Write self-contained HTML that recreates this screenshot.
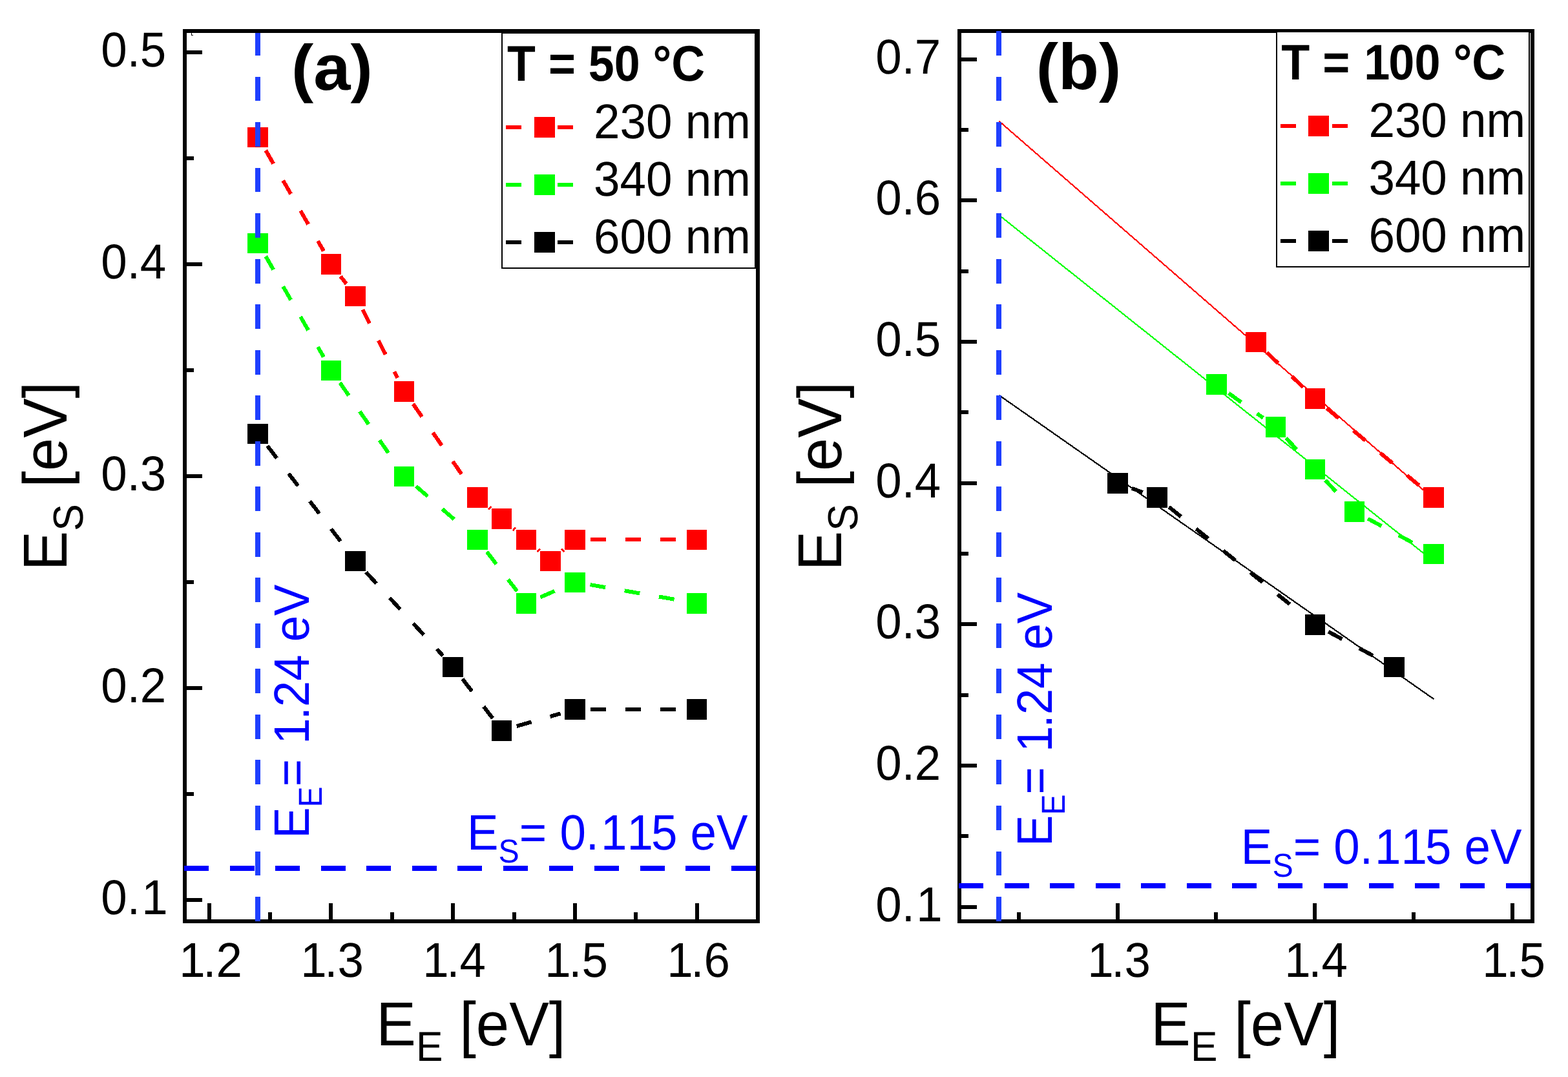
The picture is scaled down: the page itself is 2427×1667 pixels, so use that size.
<!DOCTYPE html>
<html lang="en"><head><meta charset="utf-8"><title>E_S versus E_E at T = 50 °C and T = 100 °C</title>
<style>html,body{margin:0;padding:0;background:#fff}svg{display:block}</style></head>
<body>
<svg width="2427" height="1667" viewBox="0 0 2427 1667" shape-rendering="crispEdges" text-rendering="geometricPrecision" font-family="Liberation Sans, Arial, Helvetica, sans-serif" style="font-kerning:none">
<rect width="2427" height="1667" fill="#fff"/>
<g id="panel-a">
<g shape-rendering="crispEdges">
<line x1="411.27" y1="232.65" x2="500.98" y2="388.55" stroke="#ff0000" stroke-width="6" stroke-dasharray="24 30"/>
<line x1="527.12" y1="427.72" x2="536.13" y2="439.48" stroke="#ff0000" stroke-width="6" stroke-dasharray="24 30"/>
<line x1="561.25" y1="479.21" x2="615.25" y2="584.79" stroke="#ff0000" stroke-width="6" stroke-dasharray="24 30"/>
<line x1="639.41" y1="625.22" x2="725.84" y2="750.38" stroke="#ff0000" stroke-width="6" stroke-dasharray="24 30"/>
<line x1="757.06" y1="785.28" x2="759.19" y2="787.12" stroke="#ff0000" stroke-width="6" stroke-dasharray="24 30"/>
<line x1="794.81" y1="818.08" x2="796.94" y2="819.92" stroke="#ff0000" stroke-width="6" stroke-dasharray="24 30"/>
<line x1="832.56" y1="850.88" x2="834.69" y2="852.72" stroke="#ff0000" stroke-width="6" stroke-dasharray="24 30"/>
<line x1="870.31" y1="852.72" x2="872.44" y2="850.88" stroke="#ff0000" stroke-width="6" stroke-dasharray="24 30"/>
<line x1="913.85" y1="835.4" x2="1055.4" y2="835.4" stroke="#ff0000" stroke-width="6" stroke-dasharray="24 30"/>
<line x1="411.27" y1="396.65" x2="500.98" y2="552.55" stroke="#00ff00" stroke-width="6" stroke-dasharray="24 30"/>
<line x1="526.16" y1="592.42" x2="612.59" y2="717.58" stroke="#00ff00" stroke-width="6" stroke-dasharray="24 30"/>
<line x1="643.81" y1="752.48" x2="721.44" y2="819.92" stroke="#00ff00" stroke-width="6" stroke-dasharray="24 30"/>
<line x1="753.62" y1="854.12" x2="800.38" y2="915.08" stroke="#00ff00" stroke-width="6" stroke-dasharray="24 30"/>
<line x1="836.4" y1="924.4" x2="868.6" y2="910.4" stroke="#00ff00" stroke-width="6" stroke-dasharray="24 30"/>
<line x1="913.5" y1="905.04" x2="1055.75" y2="929.76" stroke="#00ff00" stroke-width="6" stroke-dasharray="24 30"/>
<line x1="413.87" y1="690.12" x2="536.13" y2="849.48" stroke="#000000" stroke-width="6" stroke-dasharray="24 30"/>
<line x1="566.49" y1="885.56" x2="685.51" y2="1014.84" stroke="#000000" stroke-width="6" stroke-dasharray="24 30"/>
<line x1="715.87" y1="1050.92" x2="762.63" y2="1111.88" stroke="#000000" stroke-width="6" stroke-dasharray="24 30"/>
<line x1="799.67" y1="1124.03" x2="867.58" y2="1104.37" stroke="#000000" stroke-width="6" stroke-dasharray="24 30"/>
<line x1="913.85" y1="1097.8" x2="1055.4" y2="1097.8" stroke="#000000" stroke-width="6" stroke-dasharray="24 30"/>
</g>
<rect x="383" y="197" width="32" height="31" fill="#ff0000"/>
<rect x="497" y="393" width="31" height="32" fill="#ff0000"/>
<rect x="534" y="443" width="32" height="31" fill="#ff0000"/>
<rect x="610" y="590" width="31" height="32" fill="#ff0000"/>
<rect x="723" y="754" width="32" height="32" fill="#ff0000"/>
<rect x="761" y="787" width="31" height="32" fill="#ff0000"/>
<rect x="799" y="820" width="31" height="31" fill="#ff0000"/>
<rect x="836" y="853" width="32" height="31" fill="#ff0000"/>
<rect x="874" y="820" width="32" height="31" fill="#ff0000"/>
<rect x="1063" y="820" width="31" height="31" fill="#ff0000"/>
<rect x="383" y="361" width="32" height="31" fill="#00ff00"/>
<rect x="497" y="558" width="31" height="31" fill="#00ff00"/>
<rect x="610" y="722" width="31" height="31" fill="#00ff00"/>
<rect x="723" y="820" width="32" height="31" fill="#00ff00"/>
<rect x="799" y="918" width="31" height="32" fill="#00ff00"/>
<rect x="874" y="886" width="32" height="31" fill="#00ff00"/>
<rect x="1063" y="918" width="31" height="32" fill="#00ff00"/>
<rect x="383" y="656" width="32" height="31" fill="#000000"/>
<rect x="534" y="853" width="32" height="31" fill="#000000"/>
<rect x="685" y="1017" width="32" height="31" fill="#000000"/>
<rect x="761" y="1115" width="31" height="32" fill="#000000"/>
<rect x="874" y="1082" width="32" height="32" fill="#000000"/>
<rect x="1063" y="1082" width="31" height="32" fill="#000000"/>
<rect x="286" y="48" width="887" height="1378" fill="none" stroke="#000" stroke-width="6"/>
<rect x="286" y="1390" width="27" height="6"/>
<rect x="286" y="1226" width="14" height="6"/>
<rect x="286" y="1062" width="27" height="6"/>
<rect x="286" y="898" width="14" height="6"/>
<rect x="286" y="734" width="27" height="6"/>
<rect x="286" y="570" width="14" height="6"/>
<rect x="286" y="406" width="27" height="6"/>
<rect x="286" y="242" width="14" height="6"/>
<rect x="286" y="78" width="27" height="6"/>
<rect x="321" y="1398" width="6" height="28"/>
<rect x="415" y="1412" width="6" height="14"/>
<rect x="509" y="1398" width="6" height="28"/>
<rect x="604" y="1412" width="6" height="14"/>
<rect x="698" y="1398" width="6" height="28"/>
<rect x="793" y="1412" width="6" height="14"/>
<rect x="887" y="1398" width="6" height="28"/>
<rect x="981" y="1412" width="6" height="14"/>
<rect x="1076" y="1398" width="6" height="28"/>
<line x1="285.3" y1="1344" x2="1170.3" y2="1344" stroke="#0000ff" stroke-width="8" stroke-dasharray="37.9 32.63"/>
<line x1="399" y1="51" x2="399" y2="1425.6" stroke="#1f3fff" stroke-width="8" stroke-dasharray="37.9 32.63" stroke-dashoffset="3"/>
<text transform="translate(156.2 1415) scale(1.0000 1.0450)" font-size="72.7">0.<tspan dx="2.5">1</tspan></text>
<text transform="translate(156.2 1087) scale(1.0000 1.0450)" font-size="72.7">0.2</text>
<text transform="translate(156.2 759) scale(1.0000 1.0450)" font-size="72.7">0.3</text>
<text transform="translate(156.2 431) scale(1.0000 1.0450)" font-size="72.7">0.4</text>
<text transform="translate(156.2 103) scale(1.0000 1.0450)" font-size="72.7">0.5</text>
<text transform="translate(273.87 1512.1) scale(1.0000 1.0400)" font-size="72.7"><tspan dx="3.5">1</tspan><tspan dx="-3.5">.2</tspan></text>
<text transform="translate(461.87 1512.1) scale(1.0000 1.0400)" font-size="72.7"><tspan dx="3.5">1</tspan><tspan dx="-3.5">.3</tspan></text>
<text transform="translate(650.87 1512.1) scale(1.0000 1.0400)" font-size="72.7"><tspan dx="3.5">1</tspan><tspan dx="-3.5">.4</tspan></text>
<text transform="translate(839.87 1512.1) scale(1.0000 1.0400)" font-size="72.7"><tspan dx="3.5">1</tspan><tspan dx="-3.5">.5</tspan></text>
<text transform="translate(1028.87 1512.1) scale(1.0000 1.0400)" font-size="72.7"><tspan dx="3.5">1</tspan><tspan dx="-3.5">.6</tspan></text>
<text transform="translate(582.37 1618) scale(1.0040 1.0430)" font-size="92">E<tspan font-size="62" dy="22.9">E</tspan><tspan dy="-22.9"> [eV]</tspan></text>
<text transform="translate(102.8 883.2) rotate(-90) scale(1.0000 1.0430)" font-size="92">E<tspan font-size="62.5" dy="24.6">S</tspan><tspan dy="-24.6"> [eV]</tspan></text>
<text transform="translate(478.14 1297.86) rotate(-90) scale(0.9940 1.0570)" font-size="73" fill="#0000ff">E<tspan font-size="48.5" dy="18.9">E</tspan><tspan dy="-18.9">= </tspan><tspan dx="3">1</tspan><tspan dx="-3">.24 eV</tspan></text>
<text transform="translate(722.92 1315.1) scale(0.9964 1.0570)" font-size="73" fill="#0000ff">E<tspan font-size="48.5" dy="18.9">S</tspan><tspan dy="-18.9">= 0.</tspan><tspan dx="3">11</tspan><tspan dx="-3">5 eV</tspan></text>
<text transform="translate(450.96 139.17) scale(1.0290 0.9941)" font-size="100" font-weight="bold">(a)</text>
<rect x="777" y="51" width="392" height="364" fill="#fff" stroke="#000" stroke-width="2"/>
<text transform="translate(785.07 124.91) scale(0.9798 1.0587)" font-size="73.3" font-weight="bold">T = 50 °C</text>
<rect x="783" y="194" width="24" height="6" fill="#ff0000"/>
<rect x="863" y="194" width="24" height="6" fill="#ff0000"/>
<rect x="827" y="181" width="32" height="32" fill="#ff0000"/>
<text transform="translate(919.1 213.9) scale(1.0000 1.0400)" font-size="72.8">230 nm</text>
<rect x="783" y="283" width="24" height="6" fill="#00ff00"/>
<rect x="863" y="283" width="24" height="6" fill="#00ff00"/>
<rect x="827" y="270" width="32" height="32" fill="#00ff00"/>
<text transform="translate(919.1 302.9) scale(1.0000 1.0400)" font-size="72.8">340 nm</text>
<rect x="783" y="372" width="24" height="6" fill="#000000"/>
<rect x="863" y="372" width="24" height="6" fill="#000000"/>
<rect x="827" y="359" width="32" height="32" fill="#000000"/>
<text transform="translate(919.1 391.9) scale(1.0000 1.0400)" font-size="72.8">600 nm</text>
<rect x="296" y="51" width="1" height="4"/><rect x="296" y="54" width="3" height="1"/>
</g>
<g id="panel-b">
<g shape-rendering="crispEdges">
<line x1="1546.4" y1="187.5" x2="2218.9" y2="772.2" stroke="#ff0000" stroke-width="2.2"/>
<line x1="1546.4" y1="333" x2="2218.9" y2="868.6" stroke="#00ff00" stroke-width="2.2"/>
<line x1="1546.4" y1="611.7" x2="2219.3" y2="1082" stroke="#000000" stroke-width="2.2"/>
<line x1="1960.8" y1="545.62" x2="2018.32" y2="600.51" stroke="#ff0000" stroke-width="6" stroke-dasharray="24 30"/>
<line x1="2053.52" y1="631.92" x2="2200.64" y2="754.74" stroke="#ff0000" stroke-width="6" stroke-dasharray="24 30"/>
<line x1="1901.79" y1="608.67" x2="1955.09" y2="646.8" stroke="#00ff00" stroke-width="6" stroke-dasharray="24 30"/>
<line x1="1990.37" y1="677.8" x2="2019.31" y2="708.87" stroke="#00ff00" stroke-width="6" stroke-dasharray="24 30"/>
<line x1="2051.49" y1="743.4" x2="2080.43" y2="774.47" stroke="#00ff00" stroke-width="6" stroke-dasharray="24 30"/>
<line x1="2117.31" y1="802.89" x2="2197.97" y2="846.17" stroke="#00ff00" stroke-width="6" stroke-dasharray="24 30"/>
<line x1="1752.02" y1="755.95" x2="1768.7" y2="761.92" stroke="#000000" stroke-width="6" stroke-dasharray="24 30"/>
<line x1="1809.3" y1="784.66" x2="2017.02" y2="951.87" stroke="#000000" stroke-width="6" stroke-dasharray="24 30"/>
<line x1="2056.19" y1="977.83" x2="2136.85" y2="1021.11" stroke="#000000" stroke-width="6" stroke-dasharray="24 30"/>
</g>
<rect x="1928" y="514" width="32" height="31" fill="#ff0000"/>
<rect x="2020" y="601" width="31" height="32" fill="#ff0000"/>
<rect x="2203" y="754" width="32" height="32" fill="#ff0000"/>
<rect x="1867" y="579" width="32" height="32" fill="#00ff00"/>
<rect x="1959" y="645" width="31" height="32" fill="#00ff00"/>
<rect x="2020" y="711" width="31" height="31" fill="#00ff00"/>
<rect x="2081" y="776" width="31" height="32" fill="#00ff00"/>
<rect x="2203" y="842" width="32" height="31" fill="#00ff00"/>
<rect x="1714" y="732" width="32" height="32" fill="#000000"/>
<rect x="1775" y="754" width="32" height="32" fill="#000000"/>
<rect x="2020" y="951" width="31" height="32" fill="#000000"/>
<rect x="2142" y="1017" width="32" height="31" fill="#000000"/>
<rect x="1485" y="48" width="887" height="1378" fill="none" stroke="#000" stroke-width="6"/>
<rect x="1485" y="1401" width="27" height="6"/>
<rect x="1485" y="1291" width="14" height="6"/>
<rect x="1485" y="1182" width="27" height="6"/>
<rect x="1485" y="1073" width="14" height="6"/>
<rect x="1485" y="963" width="27" height="6"/>
<rect x="1485" y="854" width="14" height="6"/>
<rect x="1485" y="745" width="27" height="6"/>
<rect x="1485" y="635" width="14" height="6"/>
<rect x="1485" y="526" width="27" height="6"/>
<rect x="1485" y="417" width="14" height="6"/>
<rect x="1485" y="307" width="27" height="6"/>
<rect x="1485" y="198" width="14" height="6"/>
<rect x="1485" y="89" width="27" height="6"/>
<rect x="1574" y="1412" width="6" height="14"/>
<rect x="1727" y="1398" width="6" height="28"/>
<rect x="1879" y="1412" width="6" height="14"/>
<rect x="2032" y="1398" width="6" height="28"/>
<rect x="2185" y="1412" width="6" height="14"/>
<rect x="2338" y="1398" width="6" height="28"/>
<line x1="1484.3" y1="1371" x2="2369.3" y2="1371" stroke="#0000ff" stroke-width="8" stroke-dasharray="37.9 32.63"/>
<line x1="1546" y1="48" x2="1546" y2="1425.6" stroke="#1f3fff" stroke-width="8" stroke-dasharray="37.9 32.63" stroke-dashoffset="0"/>
<text transform="translate(1355.2 1426) scale(1.0000 1.0450)" font-size="72.7">0.<tspan dx="2.5">1</tspan></text>
<text transform="translate(1355.2 1207) scale(1.0000 1.0450)" font-size="72.7">0.2</text>
<text transform="translate(1355.2 988) scale(1.0000 1.0450)" font-size="72.7">0.3</text>
<text transform="translate(1355.2 770) scale(1.0000 1.0450)" font-size="72.7">0.4</text>
<text transform="translate(1355.2 551) scale(1.0000 1.0450)" font-size="72.7">0.5</text>
<text transform="translate(1355.2 332) scale(1.0000 1.0450)" font-size="72.7">0.6</text>
<text transform="translate(1355.2 114) scale(1.0000 1.0450)" font-size="72.7">0.7</text>
<text transform="translate(1679.87 1512.1) scale(1.0000 1.0400)" font-size="72.7"><tspan dx="3.5">1</tspan><tspan dx="-3.5">.3</tspan></text>
<text transform="translate(1984.87 1512.1) scale(1.0000 1.0400)" font-size="72.7"><tspan dx="3.5">1</tspan><tspan dx="-3.5">.4</tspan></text>
<text transform="translate(2290.87 1512.1) scale(1.0000 1.0400)" font-size="72.7"><tspan dx="3.5">1</tspan><tspan dx="-3.5">.5</tspan></text>
<text transform="translate(1781.37 1618) scale(1.0040 1.0430)" font-size="92">E<tspan font-size="62" dy="22.9">E</tspan><tspan dy="-22.9"> [eV]</tspan></text>
<text transform="translate(1301.8 883.2) rotate(-90) scale(1.0000 1.0430)" font-size="92">E<tspan font-size="62.5" dy="24.6">S</tspan><tspan dy="-24.6"> [eV]</tspan></text>
<text transform="translate(1628.14 1310.01) rotate(-90) scale(0.9940 1.0570)" font-size="73" fill="#0000ff">E<tspan font-size="48.5" dy="18.9">E</tspan><tspan dy="-18.9">= </tspan><tspan dx="3">1</tspan><tspan dx="-3">.24 eV</tspan></text>
<text transform="translate(1920.87 1337.2) scale(0.9964 1.0570)" font-size="73" fill="#0000ff">E<tspan font-size="48.5" dy="18.9">S</tspan><tspan dy="-18.9">= 0.</tspan><tspan dx="3">11</tspan><tspan dx="-3">5 eV</tspan></text>
<text transform="translate(1603.75 137.88) scale(1.0301 1.0080)" font-size="100" font-weight="bold">(b)</text>
<rect x="1976" y="49" width="391" height="364" fill="#fff" stroke="#000" stroke-width="2"/>
<text transform="translate(1983.26 123.11) scale(0.9823 1.0577)" font-size="73.3" font-weight="bold">T = <tspan dx="2">1</tspan><tspan dx="-2">00 °C</tspan></text>
<rect x="1982" y="192" width="24" height="6" fill="#ff0000"/>
<rect x="2062" y="192" width="24" height="6" fill="#ff0000"/>
<rect x="2025" y="179" width="32" height="32" fill="#ff0000"/>
<text transform="translate(2118.4 211.9) scale(1.0000 1.0400)" font-size="72.8">230 nm</text>
<rect x="1982" y="281" width="24" height="6" fill="#00ff00"/>
<rect x="2062" y="281" width="24" height="6" fill="#00ff00"/>
<rect x="2025" y="268" width="32" height="32" fill="#00ff00"/>
<text transform="translate(2118.4 300.9) scale(1.0000 1.0400)" font-size="72.8">340 nm</text>
<rect x="1982" y="370" width="24" height="6" fill="#000000"/>
<rect x="2062" y="370" width="24" height="6" fill="#000000"/>
<rect x="2025" y="357" width="32" height="32" fill="#000000"/>
<text transform="translate(2118.4 389.9) scale(1.0000 1.0400)" font-size="72.8">600 nm</text>
</g>
</svg>
</body></html>
